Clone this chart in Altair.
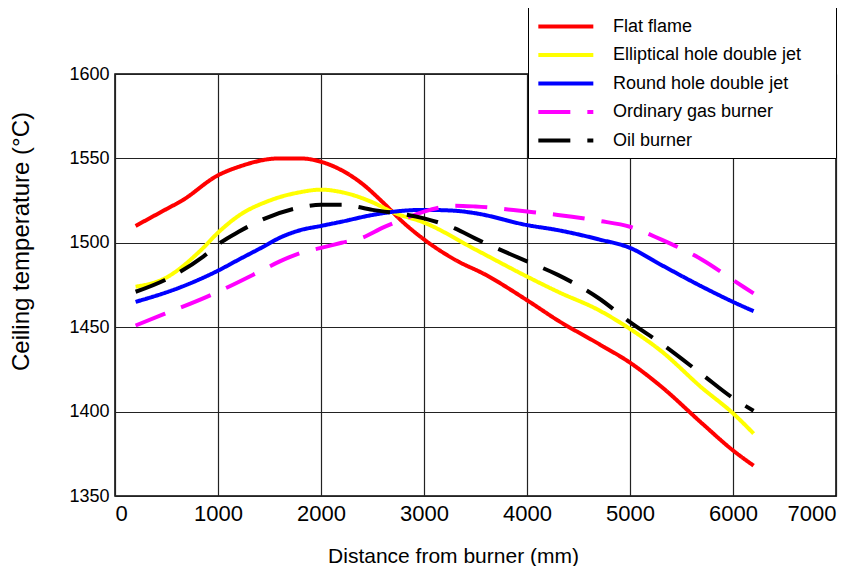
import altair as alt
import pandas as pd

series_names = ["Flat flame", "Elliptical hole double jet", "Round hole double jet",
                "Ordinary gas burner", "Oil burner"]
series_colors = ["#ff0000", "#ffff00", "#0000ff", "#ff00ff", "#000000"]

flat_x = [200, 500, 650, 1000, 1200, 1600, 1800, 2000, 2200, 2400, 2600, 2800, 3000, 3300, 3600, 4000, 4300, 4700, 5000, 5300, 5700, 6000, 6200]
flat_y = [1510, 1520, 1525, 1540, 1545, 1550, 1550, 1548, 1543, 1535, 1524, 1512, 1502, 1490, 1481, 1466, 1454, 1440, 1429, 1415, 1393, 1377, 1368]

ell_x = [200, 485, 840, 1000, 1200, 1500, 1800, 2000, 2200, 2500, 2700, 3000, 3500, 4000, 4300, 4700, 5000, 5300, 5700, 6000, 6200]
ell_y = [1474, 1479, 1496, 1506, 1516, 1525, 1530, 1531.5, 1530, 1524, 1518, 1512, 1496, 1480, 1471, 1460, 1449, 1436, 1414, 1399, 1387]

round_x = [200, 650, 1000, 1200, 1450, 1600, 1800, 2000, 2200, 2500, 2800, 3000, 3300, 3500, 4000, 4300, 4700, 5000, 5300, 5700, 6000, 6200]
round_y = [1465, 1474, 1483.5, 1490, 1498, 1503, 1507.5, 1510, 1512.5, 1516.5, 1519, 1519.5, 1519, 1517.5, 1510.5, 1507.5, 1502, 1497, 1487, 1474, 1465, 1459.5]

gas_x = [200, 485, 890, 1070, 1420, 1600, 1800, 2000, 2200, 2400, 2600, 2800, 3000, 3300, 3500, 4000, 4300, 4700, 5000, 5300, 5700, 6000, 6200]
gas_y = [1451, 1458, 1468, 1473, 1483.5, 1489, 1494, 1497, 1500, 1503, 1509, 1514, 1518.5, 1522, 1521.5, 1518.5, 1516.5, 1513, 1509.5, 1502, 1490, 1478, 1470]

oil_x = [200, 485, 860, 1035, 1200, 1420, 1800, 2000, 2200, 2500, 3000, 3300, 3500, 4000, 4300, 4700, 5000, 5300, 5700, 6000, 6200]
oil_y = [1471, 1478, 1492, 1500.5, 1506.5, 1513.5, 1521, 1522.5, 1522.5, 1519.5, 1514.5, 1508.5, 1502.5, 1489, 1481, 1467, 1453, 1440.5, 1422, 1408, 1400.5]

all_x = [flat_x, ell_x, round_x, gas_x, oil_x]
all_y = [flat_y, ell_y, round_y, gas_y, oil_y]

rows = []
for name, xs, ys in zip(series_names, all_x, all_y):
    for i, (xv, yv) in enumerate(zip(xs, ys)):
        rows.append({"series": name, "distance": xv, "temp": yv, "order": i})
df = pd.DataFrame(rows)

FONT = "Liberation Sans"
PAD = "\u2800" * 2

legend_kw = dict(title=None, orient="none", legendX=413, legendY=-67,
                 symbolType="M-1,0H5", symbolSize=336, symbolStrokeWidth=4,
                 labelFontSize=18, labelFont=FONT, labelColor="#000000",
                 labelOffset=54, padding=8, rowPadding=7.5,
                 labelExpr="datum.label + '" + PAD + "'",
                 fillColor="#ffffff", strokeColor="#000000",
                 labelLimit=500)

chart = alt.Chart(df).mark_line(strokeWidth=4, interpolate="monotone").encode(
    x=alt.X("distance:Q", scale=alt.Scale(domain=[0, 7000], nice=False),
            axis=alt.Axis(values=[0, 1000, 2000, 3000, 4000, 5000, 6000, 7000],
                          title="Distance from burner (mm)", format="d")),
    y=alt.Y("temp:Q", scale=alt.Scale(domain=[1350, 1600], nice=False, zero=False),
            axis=alt.Axis(values=[1350, 1400, 1450, 1500, 1550, 1600],
                          title="Ceiling temperature (°C)", format="d")),
    color=alt.Color("series:N", scale=alt.Scale(domain=series_names, range=series_colors),
                    legend=alt.Legend(**legend_kw)),
    strokeDash=alt.StrokeDash("series:N",
                              scale=alt.Scale(domain=series_names,
                                              range=[[1, 0], [1, 0], [1, 0], [32, 17], [32, 17]]),
                              legend=alt.Legend(**legend_kw)),
    order="order:Q",
).properties(
    width=721, height=422,
    autosize=alt.AutoSizeParams(type="none"),
    padding={"left": 107, "top": 66, "right": 20, "bottom": 70},
).configure_view(
    stroke="#000000", strokeWidth=1.5
).configure_axis(
    grid=True, gridColor="#222222", gridWidth=1.2, gridOpacity=1,
    domain=False, ticks=False,
    labelFont=FONT, labelColor="#000000",
    titleFont=FONT, titleColor="#000000", titleFontWeight="normal",
).configure_axisY(
    labelFontSize=18, labelPadding=6, titleFontSize=24,
    titleX=-94, titleY=167, titleBaseline="middle", titleAlign="center"
).configure_axisX(
    labelFontSize=22, labelPadding=7, titleFontSize=21,
    titleX=338, titleY=60, titleBaseline="middle", titleAlign="center"
)

chart.save("out.html", embed_options={"renderer": "svg", "actions": False})
